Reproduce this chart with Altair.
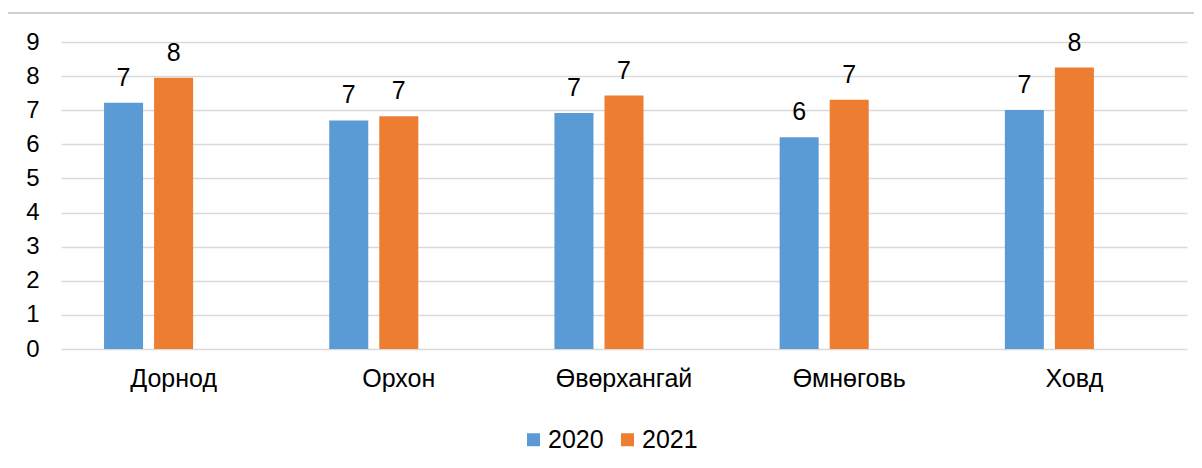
import altair as alt
import pandas as pd

categories = ["Дорнод", "Орхон", "Өвөрхангай", "Өмнөговь", "Ховд"]
values_2020 = [7.22, 6.70, 6.92, 6.21, 7.01]
values_2021 = [7.95, 6.82, 7.43, 7.31, 8.25]
series = ["2020", "2021"]
colors = ["#5B9BD5", "#ED7D31"]

rows = []
for c, a, b in zip(categories, values_2020, values_2021):
    rows.append({"region": c, "year": "2020", "value": a})
    rows.append({"region": c, "year": "2021", "value": b})
df = pd.DataFrame(rows)

FONT = "Liberation Sans"

x = alt.X("region:N", sort=categories, title=None,
          scale=alt.Scale(paddingInner=0, paddingOuter=0),
          axis=alt.Axis(labelAngle=0, ticks=False, domain=False, grid=False,
                        labelFontSize=25, labelFont=FONT, labelColor="#000000",
                        labelPadding=17))
xo = alt.XOffset("year:N", scale=alt.Scale(domain=["2020", "2021", "_"],
                                           paddingInner=0.22, paddingOuter=0.86))
y = alt.Y("value:Q", title=None,
          scale=alt.Scale(domain=[0, 9], nice=False),
          axis=alt.Axis(values=list(range(10)), ticks=False, domain=False,
                        grid=True, gridColor="#d9d9d9", gridWidth=1.3,
                        labelFontSize=24, labelFont=FONT, labelColor="#000000",
                        labelPadding=22))
color = alt.Color("year:N", scale=alt.Scale(domain=series, range=colors),
                  legend=alt.Legend(title=None, orient="none", direction="horizontal",
                                    legendX=460, legendY=385,
                                    symbolType="square", symbolSize=169,
                                    symbolStrokeWidth=0,
                                    labelFontSize=25, labelFont=FONT,
                                    labelColor="#000000", labelOffset=2,
                                    columnPadding=11, padding=0))

bars = alt.Chart(df).mark_bar().encode(x=x, xOffset=xo, y=y, color=color)
labels = alt.Chart(df).mark_text(fontSize=25, font=FONT, color="#000000",
                                 baseline="alphabetic", dy=-17).encode(
    x=x, xOffset=xo, y=y, text=alt.Text("value:Q", format=".0f"))

frame_left = alt.Chart(df).mark_rule(color="#cfcfcf", strokeWidth=2).encode(
    x=alt.value(-56), y=alt.value(-29), y2=alt.value(460))
frame_top = alt.Chart(df).mark_rule(color="#cfcfcf", strokeWidth=2).encode(
    x=alt.value(-56), x2=alt.value(1160), y=alt.value(-29))

chart = (frame_left + frame_top + bars + labels).properties(
    width=1126, height=307,
    autosize=alt.AutoSizeParams(type="none"),
    padding={"left": 53, "top": 34, "right": 7, "bottom": 110},
    background="white",
).configure_view(stroke=None)

chart.save("out.html", embed_options={"renderer": "svg", "actions": False})
